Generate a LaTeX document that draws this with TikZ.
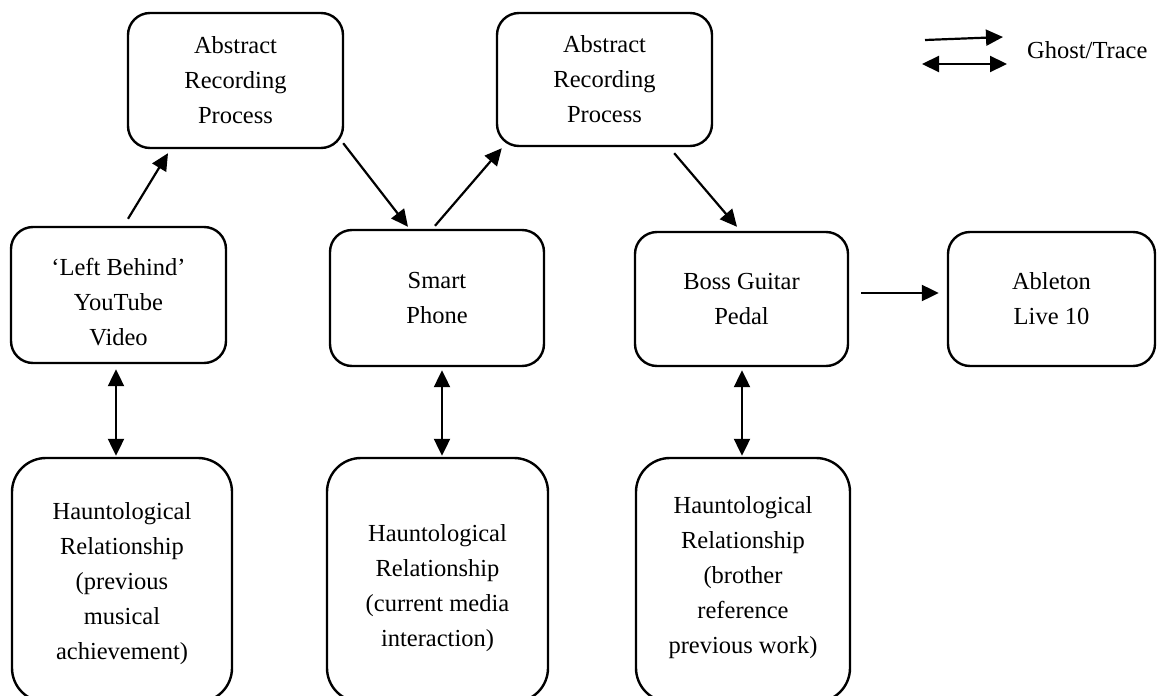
\documentclass[tikz,border=0pt]{standalone}
\usepackage{fontspec}
\setmainfont{Liberation Serif}
\usetikzlibrary{arrows.meta,calc}
\begin{document}
\begin{tikzpicture}[x=1pt,y=-1pt,
  box/.style={draw,line width=2.4pt,rounded corners=22pt,align=center,inner sep=0pt,font=\fontsize{24.5}{35}\selectfont},
  hbox/.style={draw,line width=2.4pt,rounded corners=34pt,inner sep=0pt},
  txt/.style={align=center,inner sep=0pt,font=\fontsize{24.5}{35}\selectfont},
  tip/.tip={Triangle[length=17pt,width=16pt]},
  arr/.style={line width=2.2pt,-tip},
  dbl/.style={line width=2.2pt,tip-tip}]
\useasboundingbox (0,0) rectangle (1157,696);
\clip (0,0) rectangle (1157,696);

% top boxes
\node[box,minimum width=215pt,minimum height=135pt] (arp1) at (235.5,80.5) {Abstract\\Recording\\Process};
\node[box,minimum width=215pt,minimum height=133pt] (arp2) at (604.5,79.5) {Abstract\\Recording\\Process};

% middle boxes
\node[box,minimum width=215pt,minimum height=136pt] (lb) at (118.5,295) {};
\node[txt] (lbt) at (118.5,302) {`Left Behind'\\YouTube\\Video};
\node[box,minimum width=214pt,minimum height=136pt] (sp) at (437,298) {Smart\\Phone};
\node[box,minimum width=213pt,minimum height=134pt] (boss) at (741.5,299) {Boss Guitar\\Pedal};
\node[box,minimum width=207pt,minimum height=134pt] (abl) at (1051.5,299) {Ableton\\Live 10};

% bottom boxes
\node[hbox,minimum width=220pt,minimum height=244pt] (h1box) at (122,580) {};
\node[hbox,minimum width=221pt,minimum height=244pt] (h2box) at (437.5,580) {};
\node[hbox,minimum width=214pt,minimum height=244pt] (h3box) at (743,580) {};
\node[txt] (h1) at (122,584) {Hauntological\\Relationship\\(previous\\musical\\achievement)};
\node[txt] (h2) at (437.5,588) {Hauntological\\Relationship\\(current media\\interaction)};
\node[txt] (h3) at (743,578) {Hauntological\\Relationship\\(brother\\reference\\previous work)};

% connectors
\draw[arr] ($(lb.north)+(9.5,-7)$) -- ($(arp1.south)+(-67.5,4)$);
\draw[arr] ($(arp1.south east)+(-1,-6)$) -- ($(sp.north)+(-29,-2)$);
\draw[arr] ($(sp.north)+(-2,-3)$) -- ($(arp2.south west)+(6,1)$);
\draw[arr] ($(arp2.south east)+(-39,6)$) -- ($(boss.north)+(-4.5,-4)$);
\draw[arr] ($(boss.east)+(12,-6)$) -- ($(abl.west)+(-8,-6)$);
\draw[dbl] ($(lb.south)+(-2.5,5)$) -- ($(h1box.north)+(-6,-1)$);
\draw[dbl] ($(sp.south)+(5,3)$) -- ($(h2box.north)+(4.5,-1)$);
\draw[dbl] ($(boss.south)+(0.5,3)$) -- ($(h3box.north)+(-1,-1)$);

% legend
\coordinate (lg1s) at (925,40);
\coordinate (lg1e) at (1003,37);
\coordinate (lg2s) at (922,64);
\coordinate (lg2e) at (1007,64);
\draw[arr] (lg1s) -- (lg1e);
\draw[dbl] (lg2s) -- (lg2e);
\node[txt,anchor=west] (legend) at (1027,50) {Ghost/Trace};
\end{tikzpicture}
\end{document}
